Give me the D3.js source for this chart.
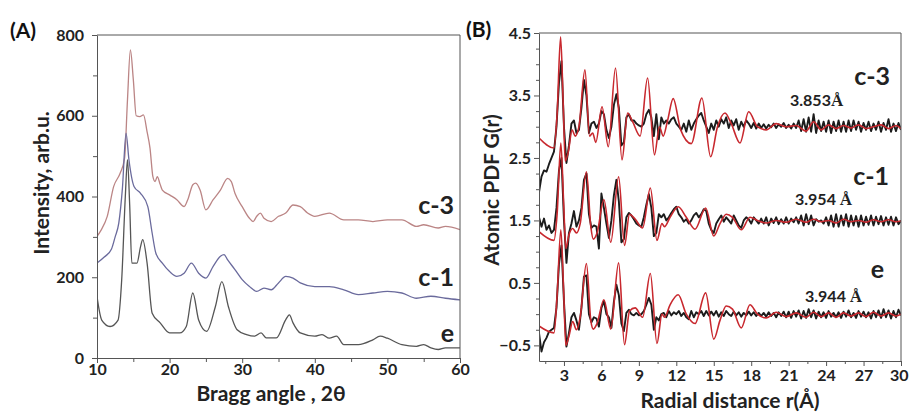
<!DOCTYPE html>
<html><head><meta charset="utf-8">
<script src="https://cdn.jsdelivr.net/npm/d3@7"></script>
<style>body{margin:0;background:#fff} svg{display:block}</style>
</head><body>
<svg id="chart" width="909" height="420"></svg>
<script>
// ---------- Panel A: XRD ----------
const c3Angle = [10,10.5,11.4,12.3,13.2,13.8,14.2,14.6,15.0,15.4, 15.9,16.4,16.9,17.3,17.7,18.0,18.3,18.7,19,20, 21,22,22.5,23.2,23.6,24.2,25,26,27,28, 28.5,29,30,31,31.5,32,32.5,33,34,35, 36,37,38,39,40,42,44,46,48,50, 52,54,55,57,58,60];
const c3Int   = [301,315,350,425,458,495,640,763,690,600, 598,602,560,520,449,437,449,430,416,404, 392,375,392,429,433,416,367,392,416,445, 437,408,375,346,338,351,359,346,338,351, 359,379,375,359,351,359,342,342,338,342, 342,326,330,322,326,318];
const c1Angle = [10,11,12,12.5,13,13.5,14.0,14.4,15.1,16, 17,17.6,18.1,19,20,21,22,23,24,25, 26,27,27.5,28,29,30,31,32,33,34, 35,36,37,38,40,42,44,46,48,50, 52,54,56,58,60];
const c1Int   = [235,250,270,300,334,420,557,491,425,408, 375,309,260,235,214,202,210,235,210,198, 227,252,256,243,219,194,177,165,173,169, 186,202,198,186,177,177,169,157,161,165, 161,148,153,148,144];
const eAngle  = [10,10.65,11.8,12.9,13.4,13.9,14.2,14.5,14.8,15.5, 16.0,16.3,16.9,17.6,18.7,20,21.4,22.3,23.2,24, 25.1,26.3,27.2,28.1,29.3,30.6,31.7,32.6,33.3,34.7, 36,36.5,37,38,40,41,42,43,44,46, 48,49,50,52,54,55,56,57,58,60];
const eInt    = [152,94,78,94,193,400,491,380,235,235, 276,293,235,111,87,62,62,78,161,94, 66,127,189,127,70,58,54,62,50,50, 95,107,87,62,54,58,49,54,33,33, 45,54,49,33,29,33,25,21,25,25];
const xTicksA = [10,20,30,40,50,60];
const yTicksA = [0,200,400,600,800];
const seriesA = ["c-3","c-1","e"];

// ---------- Panel B: PDF ----------
const rFitC3 = [1.0,2.2,2.45,2.73,2.95,3.1,3.35,3.65,3.9,4.2, 4.68,5.05,5.3,5.55,6.05,6.55,7.13,7.65,8.1,8.5, 9.1,9.7,10.25,10.65,10.95,11.3,11.75,12.35,13.2,14.05, 14.75,15.3,15.9,16.4,17.1,17.8,18.5,19.2,20.0,20.8, 21.6,22.4,23.0,23.6,24.2,24.8,25.4,26.0,26.6,27.2, 27.8,28.4,29.0,29.6,30.0];
const rFitC1 = [1.0,2.2,2.45,2.75,2.97,3.15,3.4,3.7,4.0,4.3, 4.8,5.15,5.35,5.65,6.2,6.75,7.38,7.85,8.25,8.7, 9.3,9.92,10.45,10.85,11.05,11.5,12.15,12.8,13.5,14.35, 15.0,15.5,16.0,16.5,17.2,17.9,18.5,19.2,20.0,20.8, 21.6,22.4,23.0,23.6,24.2,24.8,25.4,26.0,26.6,27.2, 27.8,28.4,29.0,29.6,30.0];
const fitC3 = [2.82,2.66,3.2,4.44,3.3,2.45,2.6,2.95,2.85,3.0, 3.91,2.85,2.9,2.75,3.32,2.68,3.94,2.47,3.22,3.08, 2.85,3.78,2.55,3.0,2.85,3.1,3.45,2.95,2.73,3.46, 2.52,3.0,3.22,3.05,2.74,3.24,3.0,2.95,3.05,3.0, 3.02,2.93,3.08,2.95,3.03,2.97,3.02,2.98,3.03,2.97, 3.0,3.03,2.97,3.02,2.97];
const fitC1 = [1.32,1.18,1.6,2.74,1.8,1.05,1.27,1.37,1.3,1.45, 2.28,1.4,1.2,1.3,1.83,1.15,2.2,1.1,1.6,1.52, 1.38,2.02,1.18,1.45,1.4,1.55,1.72,1.55,1.36,1.7, 1.25,1.45,1.6,1.55,1.35,1.55,1.5,1.46,1.5,1.47, 1.52,1.47,1.52,1.48,1.5,1.46,1.52,1.48,1.5,1.47, 1.51,1.48,1.51,1.48,1.49];
const fitE  = [-0.19,-0.3,0.3,1.35,0.4,-0.5,-0.35,-0.12,-0.25,-0.05, 0.81,-0.1,-0.24,-0.15,0.23,-0.24,0.82,-0.49,0.05,0.1, -0.05,0.65,-0.47,0.0,-0.05,0.15,0.31,0.0,-0.15,0.34, -0.4,-0.1,0.13,0.08,-0.22,0.15,0.0,-0.06,0.03,-0.04, 0.02,-0.05,0.03,-0.04,0.02,-0.05,0.02,-0.03,0.02,-0.04, 0.03,-0.03,0.02,-0.03,0.0];

const rExp = [1.0,1.2,1.4,1.6,1.8,2.0,2.2,2.4,2.6,2.8, 3.0,3.2,3.4,3.6,3.8,4.0,4.2,4.4,4.6,4.8, 5.0,5.2,5.4,5.6,5.8,6.0,6.2,6.4,6.6,6.8, 7.0,7.2,7.4,7.6,7.8,8.0,8.2,8.4,8.6,8.8, 9.0,9.2,9.4,9.6,9.8,10.0,10.2,10.4,10.6,10.8, 11.0,11.2,11.4,11.6,11.8,12.0,12.2,12.4,12.6,12.8, 13.0,13.2,13.4,13.6,13.8,14.0,14.2,14.4,14.6,14.8, 15.0,15.2,15.4,15.6,15.8,16.0,16.2,16.4,16.6,16.8, 17.0,17.2,17.4,17.6,17.8,18.0,18.2,18.4,18.6,18.8, 19.0,19.2,19.4,19.6,19.8,20.0,20.2,20.4,20.6,20.8, 21.0,21.2,21.4,21.6,21.8,22.0,22.2,22.4,22.6,22.8, 23.0,23.2,23.4,23.6,23.8,24.0,24.2,24.4,24.6,24.8, 25.0,25.2,25.4,25.6,25.8,26.0,26.2,26.4,26.6,26.8, 27.0,27.2,27.4,27.6,27.8,28.0,28.2,28.4,28.6,28.8, 29.0,29.2,29.4,29.6,29.8,30.0];
const expC3 = [1.95,2.2,2.3,2.28,2.4,2.5,2.6,3.0,3.7,4.05, 3.0,2.42,2.7,3.05,3.1,2.9,2.95,3.3,3.75,3.5, 2.9,3.05,3.08,2.98,3.05,3.25,3.2,2.95,2.82,3.0, 3.35,3.52,3.3,2.7,2.75,3.15,3.2,3.1,3.1,3.05, 3.02,3.0,3.05,3.2,3.27,3.15,2.85,3.2,2.8,3.15, 3.05,3.1,3.05,3.12,3.15,3.05,3.0,2.95,3.05,2.92, 3.1,2.95,3.05,3.12,3.18,3.22,3.1,3.0,2.9,3.05, 2.95,3.1,3.0,3.12,3.05,3.15,2.98,3.1,3.02,3.12, 2.95,3.08,3.0,3.1,3.05,2.98,3.06,2.97,3.05,2.98, 3.04,2.97,3.03,2.99,3.05,2.98,3.04,3.0,3.06,2.98, 3.03,2.97,3.05,2.98,3.1,2.93,3.12,2.92,3.15,2.92, 3.2,2.9,3.1,2.93,3.08,2.92,3.1,2.9,3.08,2.93, 3.1,2.92,3.08,2.92,3.1,2.93,3.1,2.95,3.08,2.92, 3.06,2.95,3.08,2.93,3.05,2.95,3.08,2.92,3.06,2.95, 3.12,2.92,3.05,2.93,3.06,2.95];
const expC1 = [1.55,1.4,1.53,1.35,1.42,1.3,1.35,1.7,2.3,2.5, 1.5,0.82,1.3,1.45,1.65,1.4,1.5,1.7,2.15,2.25, 1.6,1.38,1.42,1.4,1.05,1.93,1.7,1.45,1.22,1.5, 1.9,2.15,1.8,1.15,1.2,1.55,1.62,1.58,1.52,1.45, 1.42,1.4,1.55,1.75,1.92,1.7,1.25,1.3,1.6,1.55, 1.6,1.5,1.55,1.62,1.68,1.72,1.6,1.55,1.48,1.52, 1.45,1.5,1.58,1.62,1.55,1.6,1.68,1.65,1.45,1.35, 1.3,1.45,1.52,1.58,1.48,1.55,1.5,1.45,1.58,1.5, 1.42,1.38,1.5,1.55,1.52,1.45,1.55,1.5,1.45,1.53, 1.45,1.55,1.42,1.53,1.46,1.55,1.44,1.52,1.45,1.55, 1.45,1.53,1.47,1.55,1.45,1.58,1.42,1.6,1.44,1.58, 1.42,1.52,1.48,1.5,1.45,1.55,1.42,1.58,1.4,1.6, 1.4,1.58,1.42,1.6,1.4,1.58,1.42,1.57,1.4,1.58, 1.42,1.56,1.43,1.58,1.42,1.56,1.44,1.57,1.42,1.55, 1.43,1.56,1.42,1.55,1.44,1.5];
const expE = [-0.3,-0.6,-0.45,-0.38,-0.28,-0.25,-0.22,0.1,0.8,1.1, 0.2,-0.52,-0.3,-0.05,0.02,-0.1,-0.25,0.1,0.6,0.62, 0.0,-0.13,-0.05,-0.07,-0.2,0.1,0.21,0.0,-0.05,-0.22, 0.2,0.47,0.3,-0.15,-0.27,0.02,0.07,0.0,-0.02,0.02, -0.02,0.0,0.05,0.15,0.26,0.15,-0.25,-0.05,-0.1,0.0, 0.02,-0.05,0.05,-0.02,0.03,0.0,0.05,-0.03,0.02,-0.05, -0.08,0.05,-0.05,0.03,0.0,0.05,-0.03,0.05,-0.02,0.04, -0.02,0.05,-0.04,0.03,-0.03,0.05,0.0,-0.03,0.04,-0.02, 0.03,-0.04,0.02,-0.02,0.04,-0.02,0.03,-0.03,0.02,-0.03, 0.02,-0.04,0.03,-0.03,0.02,-0.05,0.03,-0.03,0.04,-0.05, 0.04,-0.06,0.05,-0.04,0.06,-0.07,0.05,-0.06,0.08,-0.05, 0.06,-0.07,0.04,-0.05,0.03,-0.06,0.05,-0.04,0.02,-0.05, 0.03,-0.06,0.04,-0.04,0.06,-0.05,0.02,-0.06,0.05,-0.04, 0.04,-0.05,0.03,-0.07,0.05,-0.05,0.06,-0.06,0.08,-0.05, 0.06,-0.07,0.05,-0.05,0.07,-0.02];
const xTicksB = [3,6,9,12,15,18,21,24,27,30];
const yTicksB = [-0.5,0.5,1.5,2.5,3.5,4.5];
const seriesB = ["c-3","c-1","e"];
const spacingLabels = ["3.853","3.954 ","3.944 "];

// ---------- drawing ----------
const svg = d3.select("#chart");
const FONT = "Lato, 'Open Sans', sans-serif";
const axisCol = "#555";

function zip(xs, ys){ return xs.map((x,i)=>[x, ys[i]]); }

// Panel A
const xA = d3.scaleLinear([10,60],[97,460]);
const yA = d3.scaleLinear([0,800],[358,35]);
const gA = svg.append("g");
gA.append("defs").append("clipPath").attr("id","clipA").append("rect")
  .attr("x",97).attr("y",35).attr("width",363).attr("height",323);

const lineA = d3.line().x(d=>xA(d[0])).y(d=>yA(d[1])).curve(d3.curveMonotoneX);
const dataA = [
  {pts: zip(c3Angle,c3Int), col:"#bb8585"},
  {pts: zip(c1Angle,c1Int), col:"#6a6a9c"},
  {pts: zip(eAngle,eInt),   col:"#555555"}
];
gA.append("g").attr("clip-path","url(#clipA)").selectAll("path").data(dataA).join("path")
  .attr("d", d=>lineA(d.pts)).attr("fill","none").attr("stroke", d=>d.col).attr("stroke-width",1.3)
  .attr("stroke-linejoin","round");

function styleAxis(g){
  g.selectAll(".domain").attr("stroke",axisCol);
  g.selectAll(".tick line").attr("stroke",axisCol);
  g.selectAll("text").attr("font-family",FONT).attr("font-weight",700).attr("font-size",16).attr("fill","#222");
}
gA.append("g").attr("transform","translate(0,358)")
  .call(d3.axisBottom(xA).tickValues([15,25,35,45,55]).tickSize(4).tickFormat(""))
  .call(g=>{g.select(".domain").remove(); g.selectAll("line").attr("stroke",axisCol);});
gA.append("g").attr("transform","translate(97,0)")
  .call(d3.axisLeft(yA).tickValues([100,300,500,700]).tickSize(4).tickFormat(""))
  .call(g=>{g.select(".domain").remove(); g.selectAll("line").attr("stroke",axisCol);});
gA.append("g").attr("transform","translate(0,358)")
  .call(d3.axisBottom(xA).tickValues(xTicksA).tickSize(5).tickPadding(1).tickSizeOuter(0))
  .call(styleAxis);
gA.append("g").attr("transform","translate(97,0)")
  .call(d3.axisLeft(yA).tickValues(yTicksA).tickSize(5).tickPadding(8).tickSizeOuter(0))
  .call(styleAxis);
gA.append("path").attr("d","M97,35H460V358").attr("fill","none").attr("stroke",axisCol);

gA.append("text").attr("x",10).attr("y",38).text("(A)")
  .attr("font-family",FONT).attr("font-weight",700).attr("font-size",21).attr("fill","#111");
gA.append("text").attr("transform","translate(49,183) rotate(-90)").attr("text-anchor","middle")
  .text("Intensity, arb.u.").attr("font-family",FONT).attr("font-weight",700).attr("font-size",21).attr("fill","#222");
gA.append("text").attr("x",271).attr("y",401).attr("text-anchor","middle")
  .text("Bragg angle , 2θ").attr("font-family",FONT).attr("font-weight",700).attr("font-size",21).attr("fill","#222");
const labelAy = [214, 286, 342];
const labelAx = [454, 454, 454];
gA.selectAll(".slA").data(seriesA).join("text").attr("class","slA")
  .attr("x",(d,i)=>labelAx[i]).attr("y",(d,i)=>labelAy[i]).attr("text-anchor","end")
  .text(d=>d).attr("font-family",FONT).attr("font-weight",700).attr("font-size",25).attr("fill","#222");

// Panel B
const xB = d3.scaleLinear([1,30],[539,901]);
const yB = d3.scaleLinear([-0.75,4.5],[361,33]);
const gB = svg.append("g");
gB.append("defs").append("clipPath").attr("id","clipB").append("rect")
  .attr("x",539).attr("y",33).attr("width",362).attr("height",328);
const lineB = d3.line().x(d=>xB(d[0])).y(d=>yB(d[1]));
const fitLine = d3.line().x(d=>xB(d[0])).y(d=>yB(d[1])).curve(d3.curveMonotoneX);
const plotB = gB.append("g").attr("clip-path","url(#clipB)");
const expSets = [expC3, expC1, expE];
const fitSets = [zip(rFitC3,fitC3), zip(rFitC1,fitC1), zip(rFitC1,fitE)];
plotB.selectAll(".exp").data(expSets).join("path").attr("class","exp")
  .attr("d", d=>lineB(zip(rExp,d))).attr("fill","none").attr("stroke","#1c1c1c")
  .attr("stroke-width",1.9).attr("stroke-linejoin","round");
plotB.selectAll(".fit").data(fitSets).join("path").attr("class","fit")
  .attr("d", d=>fitLine(d)).attr("fill","none").attr("stroke","#c8282e")
  .attr("stroke-width",1.6).attr("stroke-linejoin","round");

gB.append("g").attr("transform","translate(0,361)")
  .call(d3.axisBottom(xB).tickValues([1.5,4.5,7.5,10.5,13.5,16.5,19.5,22.5,25.5,28.5]).tickSize(3).tickFormat(""))
  .call(g=>{g.select(".domain").remove(); g.selectAll("line").attr("stroke",axisCol);});
gB.append("g").attr("transform","translate(539,0)")
  .call(d3.axisLeft(yB).tickValues([-0.25,0,0.25,0.75,1,1.25,1.75,2,2.25,2.75,3,3.25,3.75,4,4.25]).tickSize(3).tickFormat(""))
  .call(g=>{g.select(".domain").remove(); g.selectAll("line").attr("stroke",axisCol);});
gB.append("g").attr("transform","translate(0,361)")
  .call(d3.axisBottom(xB).tickValues(xTicksB).tickSize(5).tickPadding(4).tickSizeOuter(0))
  .call(styleAxis)
  .call(g=>g.selectAll(".tick text").filter(d=>d===30).attr("text-anchor","end").attr("dx","7"));
gB.append("g").attr("transform","translate(539,0)")
  .call(d3.axisLeft(yB).tickValues(yTicksB).tickSize(5).tickPadding(3).tickFormat(d3.format(".1f")).tickSizeOuter(0))
  .call(styleAxis);
gB.append("path").attr("d","M539,33H901V361").attr("fill","none").attr("stroke",axisCol);

gB.append("text").attr("x",466).attr("y",37).text("(B)")
  .attr("font-family",FONT).attr("font-weight",700).attr("font-size",21).attr("fill","#111");
gB.append("text").attr("transform","translate(499,190) rotate(-90)").attr("text-anchor","middle")
  .text("Atomic PDF G(r)").attr("font-family",FONT).attr("font-weight",700).attr("font-size",21).attr("fill","#222");
gB.append("text").attr("x",730).attr("y",408).attr("text-anchor","middle")
  .text("Radial distance r(Å)").attr("font-family",FONT).attr("font-weight",700).attr("font-size",21).attr("fill","#222");
const labelBy = [85, 185, 278];
const labelBx = [890, 889, 884];
gB.selectAll(".slB").data(seriesB).join("text").attr("class","slB")
  .attr("x",(d,i)=>labelBx[i]).attr("y",(d,i)=>labelBy[i]).attr("text-anchor","end")
  .text(d=>d).attr("font-family",FONT).attr("font-weight",700).attr("font-size",25).attr("fill","#222");
const spX = [790, 795, 805];
const spY = [106, 205, 302];
const sp = gB.selectAll(".sp").data(spacingLabels).join("text").attr("class","sp")
  .attr("x",(d,i)=>spX[i]).attr("y",(d,i)=>spY[i]).attr("font-family",FONT).attr("font-weight",700)
  .attr("font-size",16).attr("fill","#222");
sp.append("tspan").text(d=>d);
sp.append("tspan").text("Å").attr("font-family","'Liberation Serif', serif").attr("font-weight",700).attr("font-size",17);
</script>
</body></html>
